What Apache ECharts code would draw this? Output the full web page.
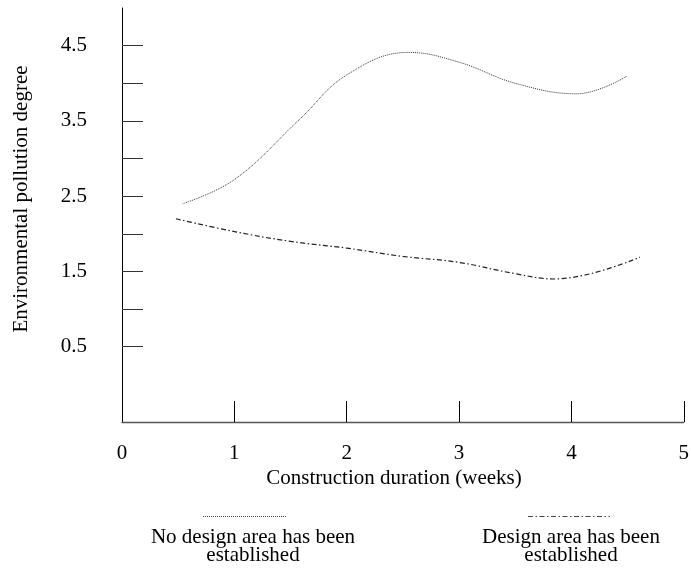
<!DOCTYPE html>
<html>
<head>
<meta charset="utf-8">
<script src="https://cdn.jsdelivr.net/npm/echarts@6/dist/echarts.min.js"></script>
<style>html,body{margin:0;padding:0;background:#fff}#c{width:692px;height:574px}</style>
</head>
<body>
<div id="c"></div>
<script>
var weeksNoDesign = [0.54, 1.0, 1.58, 2.0, 2.55, 3.0, 3.5, 4.05, 4.49];
var noDesign      = [2.40, 2.72, 3.52, 4.11, 4.41, 4.28, 4.00, 3.86, 4.09];
var weeksDesign   = [0.48, 1.0, 1.5, 2.0, 2.5, 3.0, 3.5, 3.85, 4.61];
var design        = [2.20, 2.03, 1.90, 1.81, 1.70, 1.62, 1.47, 1.40, 1.69];
var yTickValues   = [0.5, 1.0, 1.5, 2.0, 2.5, 3.0, 3.5, 4.0, 4.5];
var yLabelValues  = [0.5, 1.5, 2.5, 3.5, 4.5];
var xTickValues   = [1, 2, 3, 4, 5];
var seriesNames   = ['No design area has been\nestablished', 'Design area has been\nestablished'];
var xName = 'Construction duration (weeks)';
var yName = 'Environmental pollution degree';

function pairs(xs, ys) { return xs.map(function (x, i) { return [x, ys[i]]; }); }

var FONT = 'Liberation Serif';
var FS = 21;
var chart = echarts.init(document.getElementById('c'), null, {renderer: 'canvas'});
chart.setOption({
  animation: false,
  grid: {left: 122, right: 6, top: 8, bottom: 152, containLabel: false},
  xAxis: {
    type: 'value', min: 0, max: 5, interval: 1,
    axisLine: {show: true, onZero: false, lineStyle: {color: '#555', width: 1.3}},
    axisTick: {show: true, inside: true, length: 21, lineStyle: {color: '#000'}, customValues: xTickValues},
    axisLabel: {margin: 21, color: '#000', fontFamily: FONT, fontSize: FS, showMaxLabel: true, showMinLabel: true},
    splitLine: {show: false}
  },
  yAxis: {
    type: 'value', min: -0.5, max: 5, interval: 0.5,
    axisLine: {show: true, onZero: false, lineStyle: {color: '#000', width: 1}},
    axisTick: {show: true, inside: true, length: 21, lineStyle: {color: '#333'}, customValues: yTickValues},
    axisLabel: {margin: 35, color: '#000', fontFamily: FONT, fontSize: FS, customValues: yLabelValues,
      formatter: function (v) { return v.toFixed(1); }},
    splitLine: {show: false}
  },
  series: [
    {
      name: seriesNames[0], type: 'line', smooth: 0.4, symbol: 'none',
      data: pairs(weeksNoDesign, noDesign),
      lineStyle: {color: '#333', width: 1, type: [1, 1]}
    },
    {
      name: seriesNames[1], type: 'line', smooth: 0.4, symbol: 'none',
      data: pairs(weeksDesign, design),
      lineStyle: {color: '#222', width: 1.2, type: [5, 2.5, 1.5, 2.5]}
    }
  ],
  graphic: [
    {type: 'text', x: 394, y: 478, style: {text: xName, font: FS + 'px ' + FONT, fill: '#000', align: 'center', verticalAlign: 'middle'}},
    {type: 'text', x: 21, y: 199, rotation: Math.PI / 2, style: {text: yName, font: FS + 'px ' + FONT, fill: '#000', align: 'center', verticalAlign: 'middle'}},
    {type: 'line', shape: {x1: 203, y1: 516.5, x2: 287, y2: 516.5}, style: {stroke: '#444', lineWidth: 1, lineDash: [1, 1]}},
    {type: 'line', shape: {x1: 528, y1: 516.5, x2: 610, y2: 516.5}, style: {stroke: '#444', lineWidth: 1, lineDash: [5, 2.5, 1.5, 2.5]}},
    {type: 'text', x: 253, y: 546, style: {text: seriesNames[0], font: FS + 'px ' + FONT, fill: '#000', align: 'center', verticalAlign: 'middle', lineHeight: 18}},
    {type: 'text', x: 571, y: 546, style: {text: seriesNames[1], font: FS + 'px ' + FONT, fill: '#000', align: 'center', verticalAlign: 'middle', lineHeight: 18}}
  ]
});
</script>
</body>
</html>
